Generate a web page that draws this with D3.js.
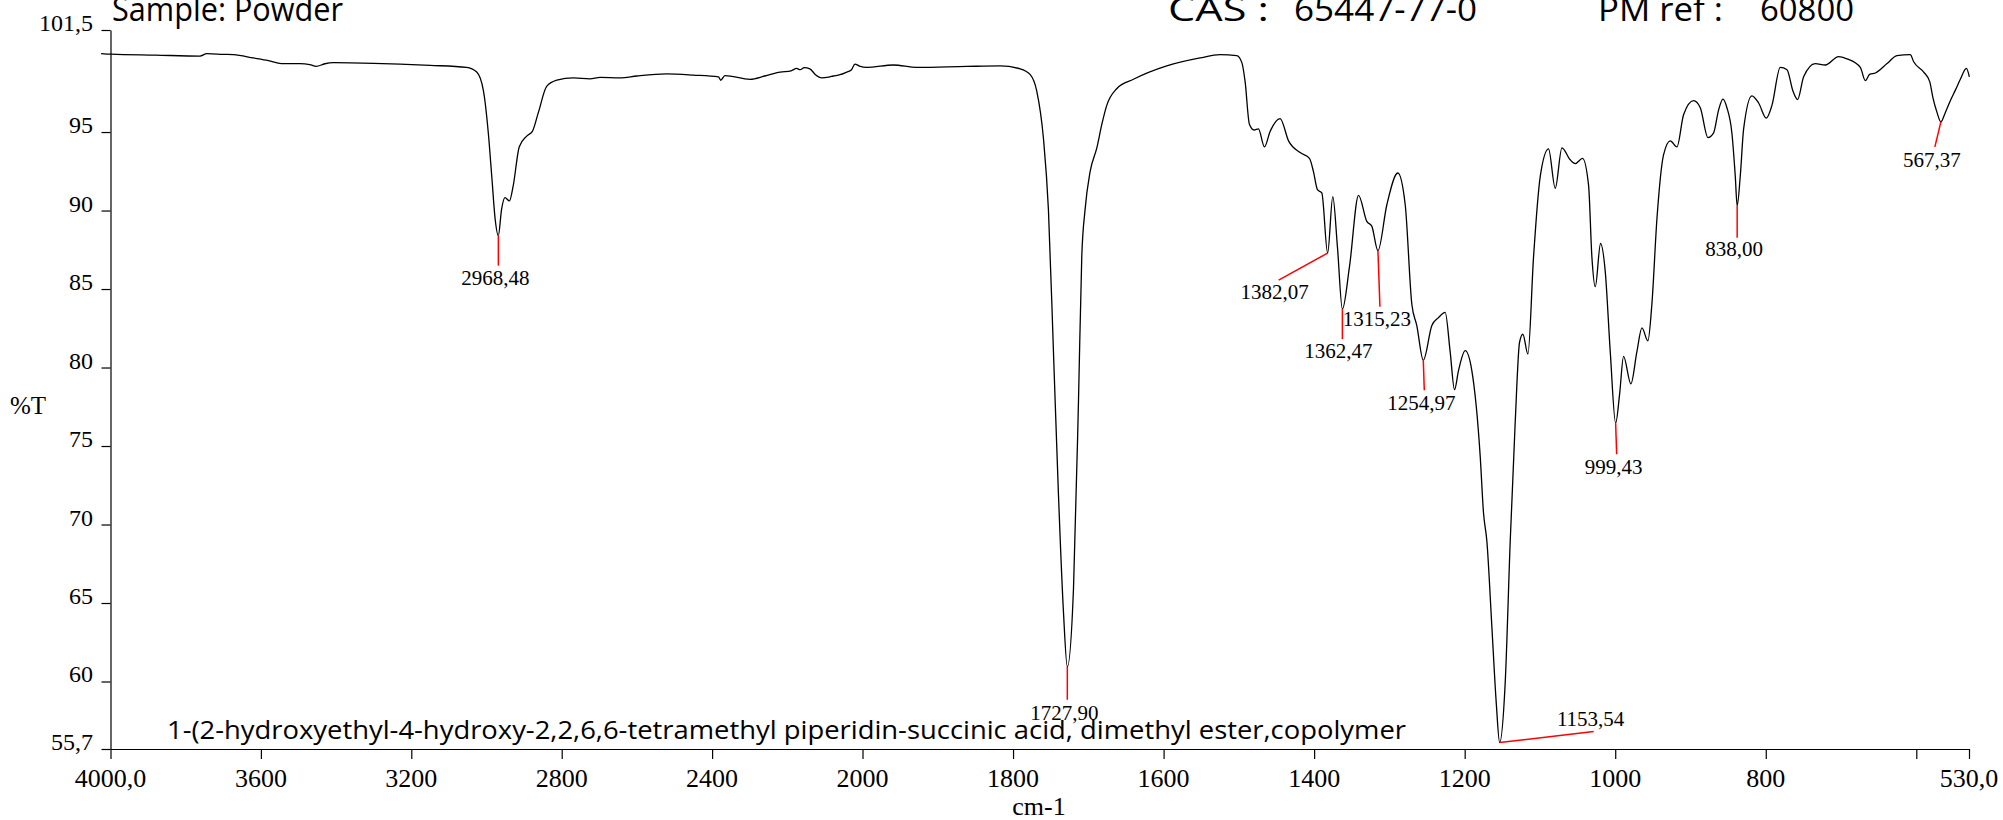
<!DOCTYPE html>
<html>
<head>
<meta charset="utf-8">
<script src="https://cdn.jsdelivr.net/npm/d3@7"></script>
<style>
  html, body { margin: 0; padding: 0; background: #fff; }
  svg { display: block; }
  .serif { font-family: "Liberation Serif", "Times New Roman", serif; }
  .comic { font-family: "Open Sans", "Noto Sans", sans-serif; font-weight: 500; }
</style>
</head>
<body>
<svg id="chart" width="2003" height="820"></svg>
<script>
// ---------------- DATA ----------------
const wavenumbers = [
  4025, 3998, 3880, 3762, 3744, 3700, 3673, 3620, 3580, 3545, 3496, 3470, 3453, 3430, 3407, 3300, 3230, 3150,
  3053, 3026, 3008, 2995, 2986, 2977, 2968.5, 2960, 2951, 2939, 2929, 2913, 2893, 2878, 2862, 2840, 2813, 2769,
  2725, 2698, 2645, 2600, 2521, 2450, 2383, 2377, 2366, 2299, 2260, 2219, 2190, 2175, 2166, 2155, 2140, 2125,
  2108.6, 2090, 2077.6, 2060, 2042, 2030, 2020, 2008, 1994, 1959, 1928, 1861.5, 1817, 1790.6, 1777.4, 1768.5,
  1759.6, 1753, 1746.3, 1739.7, 1733, 1727.9, 1719.7, 1713, 1708.7, 1704.3, 1697.6, 1688.7, 1682, 1675.5,
  1662.3, 1640, 1595.8, 1551.5, 1525, 1502.8, 1496, 1491.7, 1486, 1479.7, 1474, 1466, 1458.5, 1445.2, 1434,
  1418.6, 1406.2, 1400.9, 1395.6, 1389.8, 1382.07, 1375.2, 1369, 1362.47, 1353, 1341, 1330, 1323.4, 1315.23,
  1303.4, 1288.8, 1279, 1270.2, 1263.6, 1254.97, 1243.6, 1234.8, 1225.9, 1219.3, 1213.5, 1208.2, 1199.3,
  1190.5, 1179.4, 1175, 1170.5, 1163.9, 1158.1, 1153.54, 1146.2, 1139.5, 1132.9, 1127.1, 1122.7, 1116,
  1108.5, 1099.6, 1088.6, 1079.7, 1070.8, 1059.8, 1053.1, 1043.4, 1035.4, 1031, 1026.5, 1019.5, 1013.3,
  1006.6, 999.43, 994.2, 988.9, 979.2, 971.2, 964.5, 956.6, 951.3, 944.6, 935.8, 926.9, 918, 909.2, 895.9,
  887, 876.8, 869.3, 862.7, 856.9, 851.6, 844.9, 840.5, 838, 833.9, 829.4, 818.4, 809.5, 799.3, 791.8, 780.7,
  771.8, 763.9, 757.7, 749.7, 734.2, 720.9, 703.2, 692.1, 674.4, 667.7, 662, 654.4, 638.9, 625.8, 608, 603.5,
  590.2, 582.2, 577.8, 572.5, 567.37, 561.4, 554.8, 548.1, 541.5, 533.5, 529.5
];
const transmittance = [
  100.0, 99.96, 99.9, 99.84, 99.99, 99.95, 99.93, 99.72, 99.55, 99.36, 99.36, 99.30, 99.18, 99.35, 99.42, 99.38, 99.33, 99.25,
  99.12, 98.82, 97.61, 94.89, 92.18, 89.46, 88.40, 90.06, 90.82, 90.61, 91.57, 94.05, 94.74, 95.04, 96.25, 97.91, 98.30, 98.45,
  98.39, 98.48, 98.45, 98.57, 98.70, 98.63, 98.52, 98.30, 98.60, 98.36, 98.57, 98.82, 98.90, 99.05, 98.97, 99.10, 99.03, 98.65,
  98.45, 98.50, 98.57, 98.65, 98.82, 98.95, 99.33, 99.20, 99.12, 99.27, 99.12, 99.18, 99.21, 99.03, 98.67, 97.61,
  94.59, 90.06, 80.99, 71.95, 64.41, 60.94, 65.91, 77.99, 87.05, 90.06, 92.48, 93.99, 95.5, 96.7,
  97.76, 98.36, 99.21, 99.72, 99.93, 99.87, 99.42, 98.21, 95.5, 95.13, 95.2, 94.05, 95.04, 95.86, 94.44,
  93.69, 93.32, 92.48, 91.33, 91.12, 87.29, 90.88, 87.65, 83.72, 86.44, 90.97, 89.31, 89.01, 87.44,
  90.37, 92.39, 90.37, 84.03, 82.67, 80.46, 82.67, 83.18, 83.51, 81.01, 78.59, 79.80, 81.07,
  79.80, 74.37, 70.75, 68.93, 63.50, 58.67, 56.11, 59.88, 68.93, 76.48, 81.61, 82.12, 80.86,
  87.05, 92.18, 93.93, 91.42, 93.99, 93.23, 92.99, 93.32, 91.6, 87.05, 85.15, 87.9, 86.14,
  81.01, 76.45, 78.29, 80.71, 78.96, 81.01, 82.52, 81.70, 84.03, 89.46, 93.54, 94.44, 94.05, 96.10, 97.0,
  96.55, 94.65, 94.95, 96.4, 97.1, 96.55, 94.89, 92.18, 90.3, 92.18, 95.2, 97.31, 96.85, 95.89, 96.70, 99.12,
  98.97, 97.61, 97.07, 98.52, 99.36, 99.27, 99.81, 99.66, 99.12, 98.27, 98.67, 98.76, 99.36, 99.87, 99.93, 99.48,
  98.82, 98.21, 97.16, 96.25, 95.65, 96.25, 97.0, 97.67, 98.36, 99.06, 98.52
];

const xTickValues = [4000, 3600, 3200, 2800, 2400, 2000, 1800, 1600, 1400, 1200, 1000, 800, 600, 530];
const xTickLabels = ["4000,0", "3600", "3200", "2800", "2400", "2000", "1800", "1600", "1400", "1200", "1000", "800", "", "530,0"];
const yTickValues = [101.5, 95, 90, 85, 80, 75, 70, 65, 60, 55.7];
const yTickLabels = ["101,5", "95", "90", "85", "80", "75", "70", "65", "60", "55,7"];

const peakWn = [2968.48, 1727.90, 1382.07, 1362.47, 1315.23, 1254.97, 1153.54, 999.43, 838.00, 567.37];
const peakT  = [88.40, 60.94, 87.29, 83.72, 87.44, 80.46, 56.11, 76.45, 90.3, 95.65];
const peakLabels = ["2968,48", "1727,90", "1382,07", "1362,47", "1315,23", "1254,97", "1153,54", "999,43", "838,00", "567,37"];

// annotation layout: leader end offset from peak (px), label offset from leader end (px)
const leaderLayout = [
  {dx: 0, dy: 30, lx: -3, ly: 19},
  {dx: 0, dy: 33, lx: -3, ly: 20},
  {dx: -49, dy: 27, lx: -4, ly: 19},
  {dx: 0, dy: 30, lx: -4, ly: 19},
  {dx: 2, dy: 56, lx: -3, ly: 19},
  {dx: 1, dy: 30, lx: -3, ly: 20},
  {dx: 94, dy: -11, lx: -3, ly: -6},
  {dx: 1, dy: 31, lx: -3, ly: 20},
  {dx: 0, dy: 32, lx: -3, ly: 18},
  {dx: -6, dy: 25, lx: -3, ly: 20}
];

// ---------------- CHART ----------------
const svg = d3.select("#chart");

const x = d3.scaleLinear().domain([4000, 2000, 530]).range([110.5, 862.5, 1969]);
const y = d3.scaleLinear().domain([55.7, 101.5]).range([749, 30]);

// Y axis (lines via d3 axis, labels drawn explicitly)
const gy = svg.append("g").attr("transform", "translate(110.5,0)")
  .call(d3.axisLeft(y).tickValues(yTickValues).tickSize(9).tickSizeOuter(0).tickFormat(""));
gy.select(".domain").attr("stroke", "#000").attr("stroke-width", 1.2);
gy.selectAll(".tick line").attr("stroke", "#000").attr("stroke-width", 1.2);
svg.append("g").selectAll("text").data(yTickValues).join("text")
  .attr("class", "serif")
  .attr("x", 93).attr("y", d => y(d) + 1)
  .attr("text-anchor", "end").attr("font-size", 24).attr("fill", "#000")
  .text((d, i) => yTickLabels[i]);

// X axis
const gx = svg.append("g").attr("transform", "translate(0,749)")
  .call(d3.axisBottom(x).tickValues(xTickValues).tickSize(10).tickSizeOuter(0).tickFormat(""));
gx.select(".domain").attr("stroke", "#000").attr("stroke-width", 1.2);
gx.selectAll(".tick line").attr("stroke", "#000").attr("stroke-width", 1.2);
svg.append("g").selectAll("text").data(xTickValues).join("text")
  .attr("class", "serif")
  .attr("x", d => x(d)).attr("y", 787)
  .attr("text-anchor", "middle").attr("font-size", 26).attr("fill", "#000")
  .text((d, i) => xTickLabels[i]);

// axis titles
svg.append("text").attr("class", "serif").attr("x", 1039).attr("y", 815).attr("text-anchor", "middle")
  .attr("font-size", 26).text("cm-1");
svg.append("text").attr("class", "serif").attr("x", 10).attr("y", 414)
  .attr("font-size", 25).text("%T");

// spectrum
const pts = wavenumbers.map((w, i) => [w, transmittance[i]]);
const line = d3.line().x(d => x(d[0])).y(d => y(d[1])).curve(d3.curveMonotoneX);
svg.append("path").datum(pts).attr("d", line)
  .attr("fill", "none").attr("stroke", "#000").attr("stroke-width", 1.3).attr("stroke-linejoin", "round");

// peak annotations
peakWn.forEach((w, i) => {
  const px = x(w), py = y(peakT[i]);
  const L = leaderLayout[i];
  const ex = px + L.dx, ey = py + L.dy;
  svg.append("line").attr("x1", px).attr("y1", py).attr("x2", ex).attr("y2", ey)
    .attr("stroke", "#ff0000").attr("stroke-width", 1.5);
  svg.append("text").attr("class", "serif").attr("x", ex + L.lx).attr("y", ey + L.ly).attr("text-anchor", "middle")
    .attr("font-size", 21).attr("fill", "#000").text(peakLabels[i]);
});

// header / footer texts
function comicText(str, x0, yb, w, size) {
  svg.append("text").attr("class", "comic").attr("x", x0).attr("y", yb)
    .attr("font-size", size).attr("fill", "#000")
    .attr("textLength", w).attr("lengthAdjust", "spacingAndGlyphs").text(str);
}
comicText("Sample: Powder", 112, 21, 231, 33);
comicText("CAS :", 1168, 21, 101, 33);
comicText("65447-77-0", 1294, 21, 183, 33);
comicText("PM ref :", 1598, 21, 125, 33);
comicText("60800", 1760, 21, 94, 33);
comicText("1-(2-hydroxyethyl-4-hydroxy-2,2,6,6-tetramethyl piperidin-succinic acid, dimethyl ester,copolymer", 167, 739, 1239, 26);
</script>
</body>
</html>
